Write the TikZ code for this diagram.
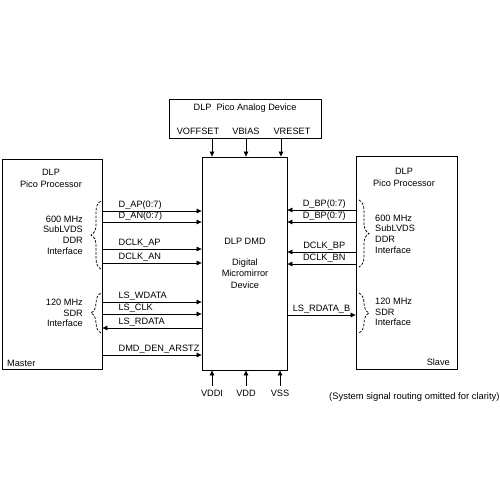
\documentclass[tikz,border=0pt]{standalone}
\usepackage{fontspec}
\setmainfont{Liberation Sans}
\usetikzlibrary{arrows.meta,decorations.pathreplacing}
\begin{document}
\begin{tikzpicture}[x=1pt,y=-1pt,
  font=\fontsize{9.2}{10.8}\selectfont,
  box/.style={draw, line width=0.8pt, inner sep=0pt},
  txt/.style={inner sep=0pt},
  sig/.style={line width=0.7pt, -{Triangle[length=5pt,width=4.5pt]}},
  lbl/.style={anchor=base west, inner sep=0pt, yshift=3.5pt},
  lblc/.style={anchor=base, inner sep=0pt, yshift=3.5pt},
  brc/.style={decorate, decoration={brace, amplitude=10pt}, line width=0.75pt, dash pattern=on 2.5pt off 1.5pt},
  pwr/.style={anchor=base, inner xsep=0pt, inner ysep=4pt}]
\useasboundingbox (0,0) rectangle (500,500);

% boxes
\node[box, minimum width=152pt, minimum height=39pt] (analog) at (245,118.5) {};
\node[box, minimum width=100pt, minimum height=210pt] (master) at (52,264) {};
\node[box, minimum width=85pt, minimum height=213pt] (dmd) at (244.5,263.5) {};
\node[box, minimum width=101pt, minimum height=213pt] (slave) at (406.5,262.5) {};

% analog device texts
\node[txt, anchor=base] (atitle) at (245,110.5) {DLP\ \ Pico Analog Device};
\node[txt, anchor=base] (voffset) at (198,134.5) {VOFFSET};
\node[txt, anchor=base] (vbias) at (246,134.5) {VBIAS};
\node[txt, anchor=base] (vreset) at (292,134.5) {VRESET};

\draw[sig] (analog.south -| 212,0) -- (dmd.north -| 212,0);
\draw[sig] (analog.south -| 246,0) -- (dmd.north -| 246,0);
\draw[sig] (analog.south -| 281,0) -- (dmd.north -| 281,0);

% master texts
\node[txt, align=center, font=\fontsize{9.2}{12}\selectfont] (mtitle) at (51,178) {DLP\\Pico Processor};
\node[txt, anchor=base west] (mlabel) at (7,366.5) {Master};
\node[txt, align=right, anchor=east, font=\fontsize{9.2}{10.7}\selectfont] (mif1) at (83,235) {600 MHz\\SubLVDS\\DDR\\Interface};
\node[txt, align=right, anchor=east, font=\fontsize{9.2}{10.7}\selectfont] (mif2) at (83,313) {120 MHz\\SDR\\Interface};
\draw[brc] (101,269) -- (101,201);
\draw[brc] (101,333) -- (101,293);

% slave texts
\node[txt, align=center, font=\fontsize{9.2}{11.5}\selectfont] (stitle) at (404,177.5) {DLP\\Pico Processor};
\node[txt, anchor=base east] (slabel) at (450,365.5) {Slave};
\node[txt, align=left, anchor=west, font=\fontsize{9.2}{10.7}\selectfont] (sif1) at (375,234) {600 MHz\\SubLVDS\\DDR\\Interface};
\node[txt, align=left, anchor=west, font=\fontsize{9.2}{10.7}\selectfont] (sif2) at (375,312) {120 MHz\\SDR\\Interface};
\draw[brc] (359,200) -- (359,267);
\draw[brc] (359,293) -- (359,333);

% DMD texts
\node[txt] (dtitle) at (245,241) {DLP DMD};
\node[txt, align=center, font=\fontsize{9.2}{11.5}\selectfont] (dsub) at (245,273.5) {Digital\\Micromirror\\Device};

% left signals
\draw[sig] (master.east |- 0,211) -- node[lbl, pos=0.16] {D\_AP(0:7)} (dmd.west |- 0,211);
\draw[sig] (master.east |- 0,222) -- node[lbl, pos=0.16] {D\_AN(0:7)} (dmd.west |- 0,222);
\draw[sig] (master.east |- 0,249) -- node[lbl, pos=0.16] {DCLK\_AP} (dmd.west |- 0,249);
\draw[sig] (master.east |- 0,263) -- node[lbl, pos=0.16] {DCLK\_AN} (dmd.west |- 0,263);
\draw[sig] (master.east |- 0,302) -- node[lbl, pos=0.16] {LS\_WDATA} (dmd.west |- 0,302);
\draw[sig] (master.east |- 0,314) -- node[lbl, pos=0.16] {LS\_CLK} (dmd.west |- 0,314);
\draw[sig] (dmd.west |- 0,328) -- node[lbl, pos=0.84] {LS\_RDATA} (master.east |- 0,328);
\draw[sig] (master.east |- 0,355) -- node[lbl, pos=0.16] {DMD\_DEN\_ARSTZ} (dmd.west |- 0,355);

% right signals
\draw[sig] (slave.west |- 0,210) -- node[lblc, pos=0.46] {D\_BP(0:7)} (dmd.east |- 0,210);
\draw[sig] (slave.west |- 0,222) -- node[lblc, pos=0.46] {D\_BP(0:7)} (dmd.east |- 0,222);
\draw[sig] (slave.west |- 0,252) -- node[lblc, pos=0.46] {DCLK\_BP} (dmd.east |- 0,252);
\draw[sig] (slave.west |- 0,264) -- node[lblc, pos=0.46] {DCLK\_BN} (dmd.east |- 0,264);
\draw[sig] (dmd.east |- 0,315) -- node[lblc, pos=0.5] {LS\_RDATA\_B} (slave.west |- 0,315);

% power pins
\node[pwr] (vddi) at (212,396.5) {VDDI};
\node[pwr] (vdd) at (246,396.5) {VDD};
\node[pwr] (vss) at (280,396.5) {VSS};
\draw[sig] (vddi.north) -- (dmd.south -| vddi.north);
\draw[sig] (vdd.north) -- (dmd.south -| vdd.north);
\draw[sig] (vss.north) -- (dmd.south -| vss.north);

% caption
\node[txt, anchor=base west, font=\fontsize{9.4}{11}\selectfont] (caption) at (329,399.5) {(System signal routing omitted for clarity)};
\end{tikzpicture}
\end{document}
